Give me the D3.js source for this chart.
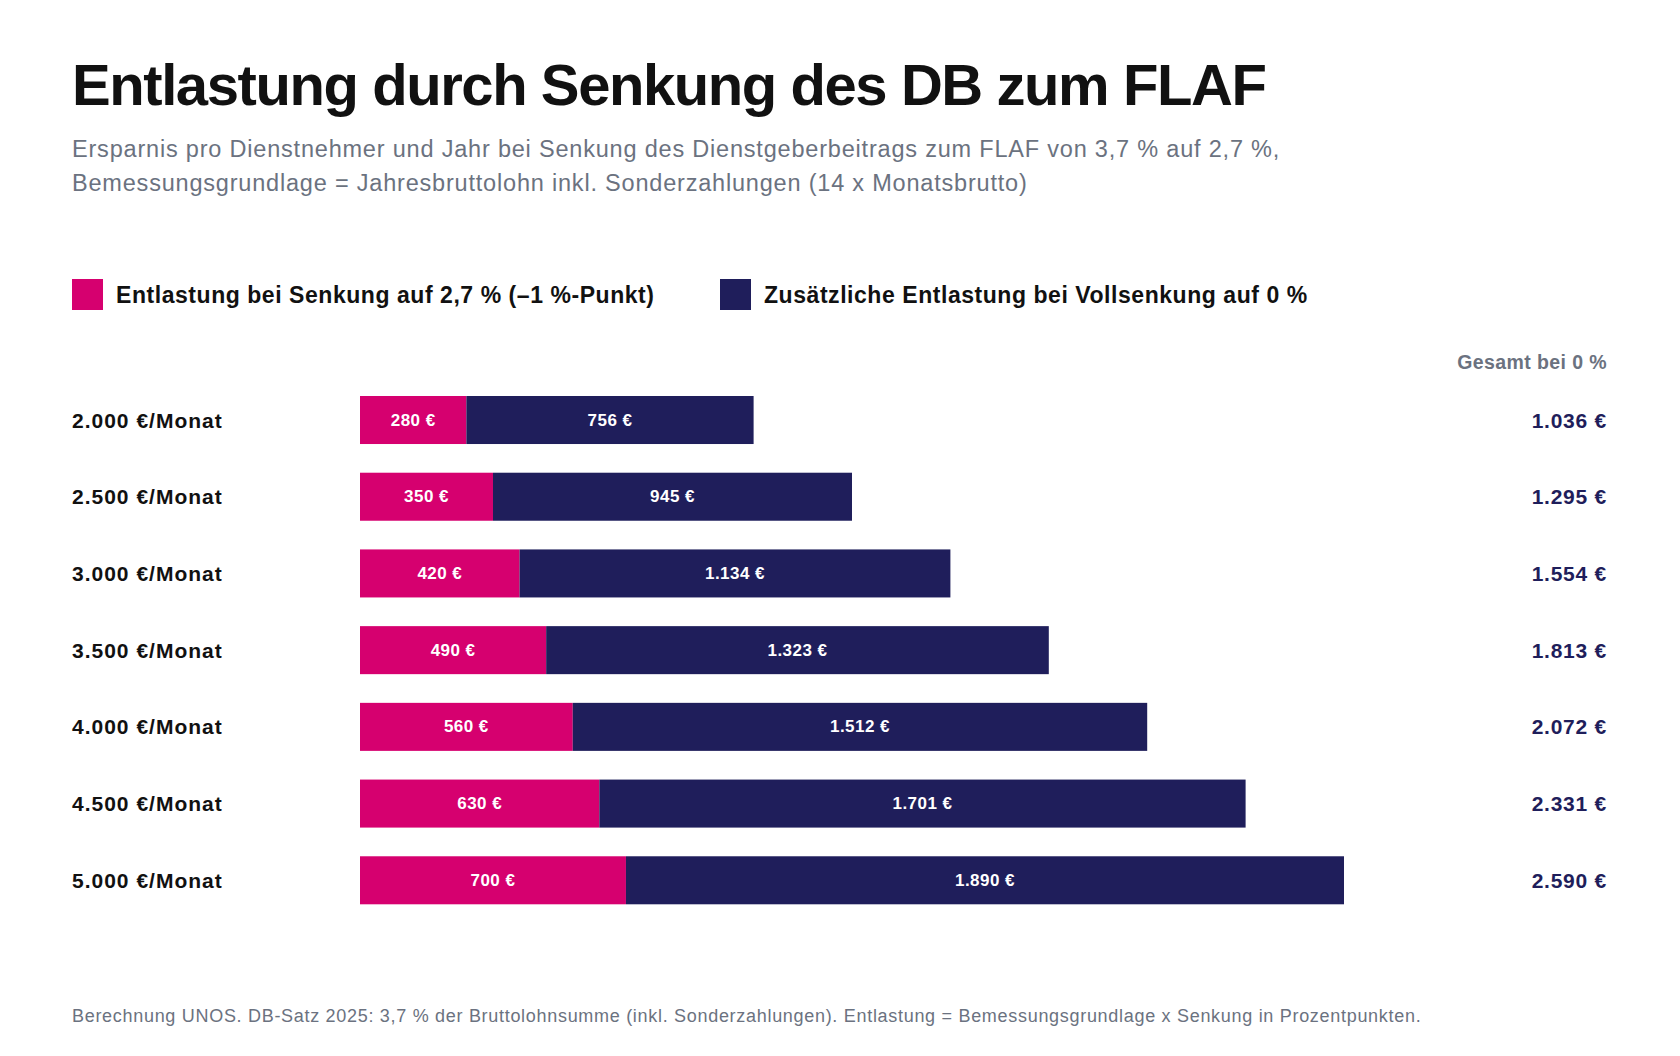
<!DOCTYPE html>
<html>
<head>
<meta charset="utf-8">
<script src="https://cdn.jsdelivr.net/npm/d3@7"></script>
<style>
  html, body { margin: 0; padding: 0; background: #fff; }
  svg { display: block; font-family: "Liberation Sans", Arial, sans-serif; }
</style>
</head>
<body>
<svg id="chart" width="1680" height="1056"></svg>
<script>
const categories = ["2.000 €/Monat", "2.500 €/Monat", "3.000 €/Monat", "3.500 €/Monat", "4.000 €/Monat", "4.500 €/Monat", "5.000 €/Monat"];
const senkung27 = [280, 350, 420, 490, 560, 630, 700];
const zusaetzlich = [756, 945, 1134, 1323, 1512, 1701, 1890];
const gesamt = [1036, 1295, 1554, 1813, 2072, 2331, 2590];
const seriesNames = ["Entlastung bei Senkung auf 2,7 % (–1 %-Punkt)", "Zusätzliche Entlastung bei Vollsenkung auf 0 %"];
const title = "Entlastung durch Senkung des DB zum FLAF";
const subtitleLines = [
  "Ersparnis pro Dienstnehmer und Jahr bei Senkung des Dienstgeberbeitrags zum FLAF von 3,7 % auf 2,7 %,",
  "Bemessungsgrundlage = Jahresbruttolohn inkl. Sonderzahlungen (14 x Monatsbrutto)"
];
const totalHeader = "Gesamt bei 0 %";
const footer = "Berechnung UNOS. DB-Satz 2025: 3,7 % der Bruttolohnsumme (inkl. Sonderzahlungen). Entlastung = Bemessungsgrundlage x Senkung in Prozentpunkten.";

const colors = ["#D6006F", "#1F1E5B"];
const fmt = v => d3.format(",")(v).replace(/,/g, ".") + " €";

const svg = d3.select("#chart");

svg.append("text").attr("x", 72).attr("y", 105)
  .attr("font-size", 58).attr("font-weight", 700).attr("letter-spacing", "-1.42px")
  .attr("fill", "#111").text(title);

svg.append("g").selectAll("text").data(subtitleLines).join("text")
  .attr("x", 72).attr("y", (d, i) => 157 + i * 34)
  .attr("font-size", 23.5).attr("letter-spacing", "0.8px").attr("fill", "#6B7280").text(d => d);

// legend
const legendX = [72, 720];
const lg = svg.append("g").selectAll("g").data(seriesNames).join("g")
  .attr("transform", (d, i) => `translate(${legendX[i]},279)`);
lg.append("rect").attr("width", 31).attr("height", 31).attr("fill", (d, i) => colors[i]);
lg.append("text").attr("x", 44).attr("y", 16).attr("dominant-baseline", "central")
  .attr("font-size", 23).attr("font-weight", 700).attr("letter-spacing", "0.55px")
  .attr("fill", "#111").text(d => d);

const x = d3.scaleLinear().domain([0, d3.max(gesamt)]).range([360, 1344]);
const y = d3.scaleBand().domain(categories).range([396, 904.3]).paddingInner(0.374).paddingOuter(0);

svg.append("text").attr("x", 1607).attr("y", 362).attr("dominant-baseline", "central")
  .attr("text-anchor", "end").attr("font-size", 19.5).attr("font-weight", 700)
  .attr("letter-spacing", "0.4px").attr("fill", "#6B7280").text(totalHeader);

const rows = svg.append("g").selectAll("g").data(categories).join("g");

rows.append("text").attr("x", 72).attr("y", d => y(d) + y.bandwidth() / 2)
  .attr("dominant-baseline", "central").attr("font-size", 21).attr("font-weight", 700)
  .attr("letter-spacing", "1.0px").attr("fill", "#111").text(d => d);

rows.append("rect").attr("x", x(0)).attr("y", d => y(d))
  .attr("width", (d, i) => x(senkung27[i]) - x(0)).attr("height", y.bandwidth())
  .attr("fill", colors[0]);
rows.append("rect").attr("x", (d, i) => x(senkung27[i])).attr("y", d => y(d))
  .attr("width", (d, i) => x(senkung27[i] + zusaetzlich[i]) - x(senkung27[i])).attr("height", y.bandwidth())
  .attr("fill", colors[1]);

rows.append("text").attr("x", (d, i) => (x(0) + x(senkung27[i])) / 2)
  .attr("y", d => y(d) + y.bandwidth() / 2).attr("dominant-baseline", "central")
  .attr("text-anchor", "middle").attr("font-size", 17).attr("font-weight", 700)
  .attr("letter-spacing", "0.45px").attr("fill", "#fff").text((d, i) => fmt(senkung27[i]));
rows.append("text").attr("x", (d, i) => (x(senkung27[i]) + x(senkung27[i] + zusaetzlich[i])) / 2)
  .attr("y", d => y(d) + y.bandwidth() / 2).attr("dominant-baseline", "central")
  .attr("text-anchor", "middle").attr("font-size", 17).attr("font-weight", 700)
  .attr("letter-spacing", "0.45px").attr("fill", "#fff").text((d, i) => fmt(zusaetzlich[i]));

rows.append("text").attr("x", 1607).attr("y", d => y(d) + y.bandwidth() / 2)
  .attr("dominant-baseline", "central").attr("text-anchor", "end")
  .attr("font-size", 21).attr("font-weight", 700).attr("letter-spacing", "0.75px")
  .attr("fill", colors[1]).text((d, i) => fmt(gesamt[i]));

svg.append("text").attr("x", 72).attr("y", 1016).attr("dominant-baseline", "central")
  .attr("font-size", 18).attr("letter-spacing", "0.7px").attr("fill", "#6B7280").text(footer);
</script>
</body>
</html>
